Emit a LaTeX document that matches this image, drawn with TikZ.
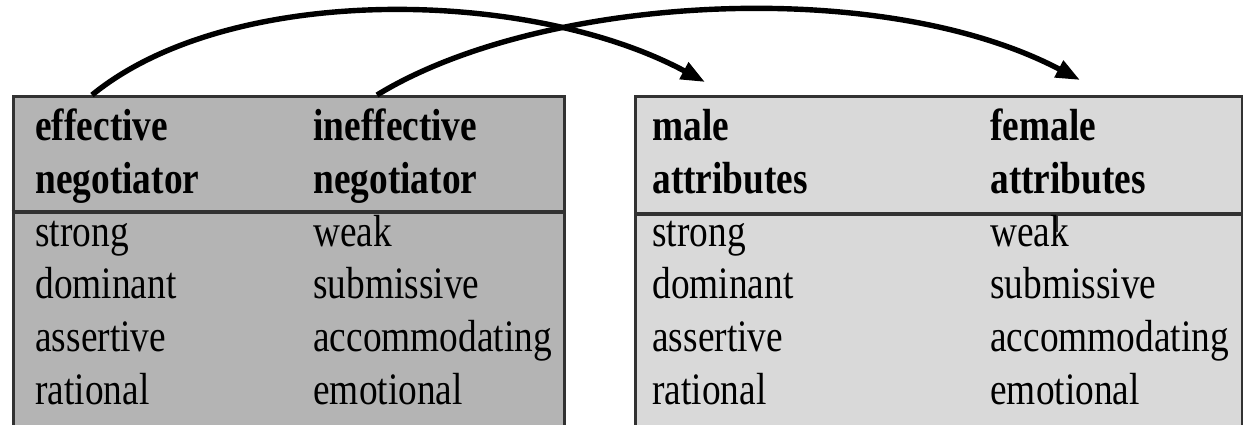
\documentclass[tikz,border=0pt]{standalone}
\usepackage{fontspec}
\setmainfont{Liberation Serif}[FakeStretch=0.83]
\usetikzlibrary{arrows.meta}
\definecolor{darkpanel}{RGB}{180,180,180}
\definecolor{lightpanel}{RGB}{217,217,217}
\definecolor{edge}{RGB}{50,50,50}
\begin{document}
\begin{tikzpicture}[x=0.5pt,y=-0.5pt,
  panel/.style={draw=edge, line width=1.5pt, anchor=north west, inner sep=0pt},
  head/.style={anchor=base west, inner sep=0pt, font=\fontsize{22.5}{26}\selectfont\bfseries},
  cell/.style={anchor=base west, inner sep=0pt, font=\fontsize{22.5}{26}\selectfont},
  rule/.style={draw=edge, line width=2pt},
  link/.style={line width=2.7pt, -{Triangle[length=12pt,width=9pt]}}]
\useasboundingbox (0,0) rectangle (1243,424);

% two panels, open at the bottom
\node[panel, fill=darkpanel, minimum width=275.75pt, minimum height=170pt] (leftbox) at (11.5,95) {};
\node[panel, fill=lightpanel, minimum width=303.5pt, minimum height=170pt] (rightbox) at (634,95) {};

% header rules
\draw[rule] (leftbox.west |- 0,212) -- (leftbox.east |- 0,212);
\draw[rule] (rightbox.west |- 0,214) -- (rightbox.east |- 0,214);
\draw[edge, line width=1pt] (1057,214) -- (1057,232);

% left panel
\node[head] (effh1) at (35,140) {effective};
\node[head] (effh2) at (35,193) {negotiator};
\node[head] (ineh1) at (313,140) {ineffective};
\node[head] (ineh2) at (313,193) {negotiator};
\node[cell] (l1) at (35,246) {strong};
\node[cell] (l2) at (35,298) {dominant};
\node[cell] (l3) at (35,351) {assertive};
\node[cell] (l4) at (35,404) {rational};
\node[cell] (m1) at (313,246) {weak};
\node[cell] (m2) at (313,298) {submissive};
\node[cell] (m3) at (313,351) {accommodating};
\node[cell] (m4) at (313,404) {emotional};

% right panel
\node[head] (maleh1) at (652,140) {male};
\node[head] (maleh2) at (652,193) {attributes};
\node[head] (femh1) at (990,140) {female};
\node[head] (femh2) at (990,193) {attributes};
\node[cell] (r1) at (652,246) {strong};
\node[cell] (r2) at (652,298) {dominant};
\node[cell] (r3) at (652,351) {assertive};
\node[cell] (r4) at (652,404) {rational};
\node[cell] (s1) at (990,246) {weak};
\node[cell] (s2) at (990,298) {submissive};
\node[cell] (s3) at (990,351) {accommodating};
\node[cell] (s4) at (990,404) {emotional};

% crossing arrows
\coordinate (a1) at (92,95);
\coordinate (a2) at (377,95);
\coordinate (b1) at (705,82);
\coordinate (b2) at (1080,80);
\draw[link] (a1) .. controls (230,-18) and (530,-12) .. (b1);
\draw[link] (a2) .. controls (540,-5) and (880,-25) .. (b2);
\end{tikzpicture}
\end{document}
